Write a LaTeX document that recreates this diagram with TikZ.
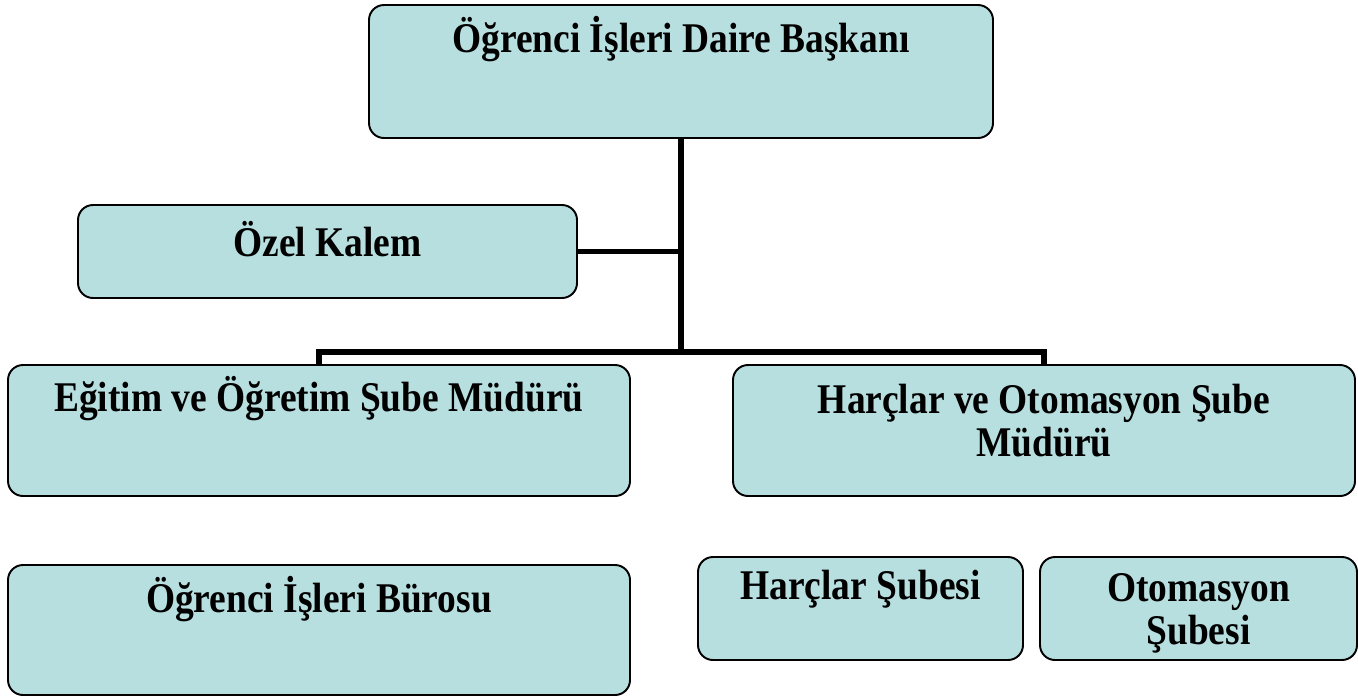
\documentclass[tikz,border=0pt]{standalone}
\usepackage{fontspec}
\setmainfont{Liberation Serif}
\usetikzlibrary{positioning}
\definecolor{boxfill}{RGB}{184,223,224}

\begin{document}
\begin{tikzpicture}[unit/.style = {draw, line width=1.1pt, fill=boxfill, rounded corners=0.3cm, inner sep=0pt},
  txt/.style = {align=center, font=\fontsize{21.3}{21.7}\selectfont\bfseries, transform shape, yscale=1.13},
  link/.style = {line width=3pt}]
\useasboundingbox (0,0) rectangle (27.16,-13.96);
\node[unit, minimum width=12.48cm, minimum height=2.66cm] (baskan) at (13.62,-1.43) {};
\node[unit, minimum width=9.98cm, minimum height=1.86cm] (kalem) at (6.55,-5.03) {};
\node[unit, minimum width=12.44cm, minimum height=2.62cm] (egitim) at (6.38,-8.61) {};
\node[unit, minimum width=12.44cm, minimum height=2.62cm] (harcoto) at (20.88,-8.61) {};
\node[unit, minimum width=12.44cm, minimum height=2.6cm] (buro) at (6.38,-12.6) {};
\node[unit, minimum width=6.5cm, minimum height=2.06cm] (harc) at (17.21,-12.17) {};
\node[unit, minimum width=6.34cm, minimum height=2.06cm] (oto) at (23.97,-12.17) {};
% texts
\node[txt] (tbaskan) at ([yshift=-0.7cm]baskan.north) {Öğrenci İşleri Daire Başkanı};
\node[txt] (tkalem) at ([yshift=-0.7cm]kalem.north) {Özel Kalem};
\node[txt] (tegitim) at ([yshift=-0.7cm]egitim.north) {Eğitim ve Öğretim Şube Müdürü};
\node[txt] (tharcoto) at ([yshift=-1.13cm]harcoto.north) {Harçlar ve Otomasyon Şube\\Müdürü};
\node[txt] (tburo) at ([yshift=-0.7cm]buro.north) {Öğrenci İşleri Bürosu};
\node[txt] (tharc) at ([yshift=-0.66cm]harc.north) {Harçlar Şubesi};
\node[txt] (toto) at ([yshift=-1.15cm]oto.north) {Otomasyon\\Şubesi};
% lines
\coordinate (hub) at (13.62,-7.04);
\draw[link] (baskan.south) -- (hub);
\draw[link] (kalem.east) -| (hub);
\draw[link] (egitim.north) |- (hub) -| (harcoto.north);
\end{tikzpicture}
\end{document}
